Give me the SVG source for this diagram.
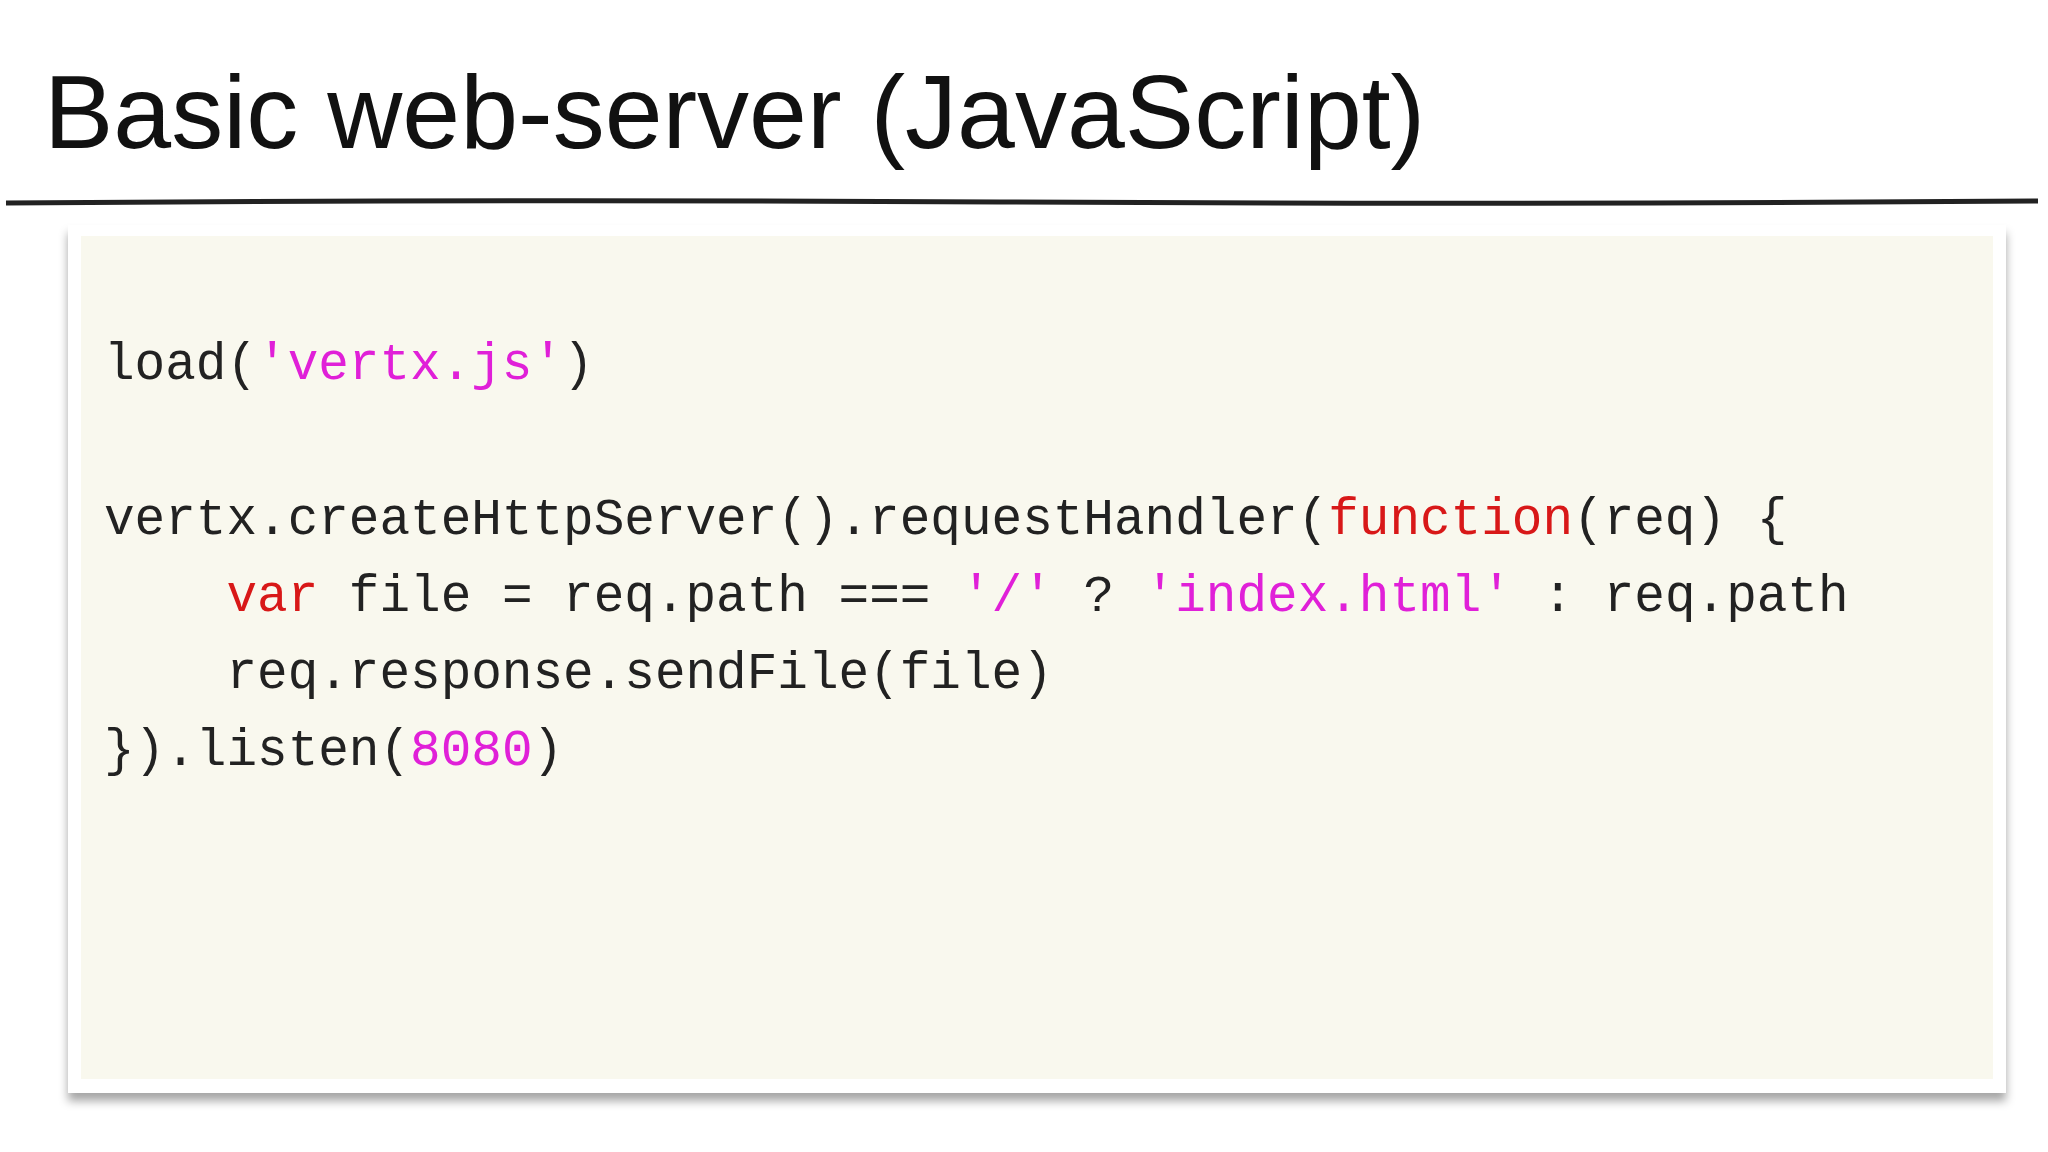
<svg xmlns="http://www.w3.org/2000/svg" width="2048" height="1152" viewBox="0 0 2048 1152">
<defs>
<filter id="sh" x="-5%" y="-5%" width="110%" height="115%"><feDropShadow dx="0" dy="8" stdDeviation="5" flood-color="#000" flood-opacity="0.35"/></filter>
</defs>
<style>
.code{font-family:"Liberation Mono","DejaVu Sans Mono",monospace;font-size:51px;fill:#222;white-space:pre}
.s{fill:#e020d8}.k{fill:#d81818}
</style>
<rect width="2048" height="1152" fill="#fff"/>
<g id="title"><text x="44" y="148" font-family="Liberation Sans, Arial, sans-serif" font-size="104" fill="#111">Basic web-server (JavaScript)</text></g>
<g id="rule"><path d="M6 203 Q500 199 1000 202 T2038 201" stroke="#222" stroke-width="5" fill="none"/></g>
<g id="card">
<rect x="68" y="225" width="1938" height="868" fill="#fff" filter="url(#sh)"/>
<rect x="81" y="236" width="1912" height="843" fill="#f9f8ee"/>
</g>
<g id="code" xml:space="preserve">
<text class="code" x="104" y="379">load(<tspan class="s">'vertx.js'</tspan>)</text>
<text class="code" x="104" y="534">vertx.createHttpServer().requestHandler(<tspan class="k">function</tspan>(req) {</text>
<text class="code" x="104" y="611">    <tspan class="k">var</tspan> file = req.path === <tspan class="s">'/'</tspan> ? <tspan class="s">'index.html'</tspan> : req.path</text>
<text class="code" x="104" y="688">    req.response.sendFile(file)</text>
<text class="code" x="104" y="765">}).listen(<tspan class="s">8080</tspan>)</text>
</g>
</svg>
